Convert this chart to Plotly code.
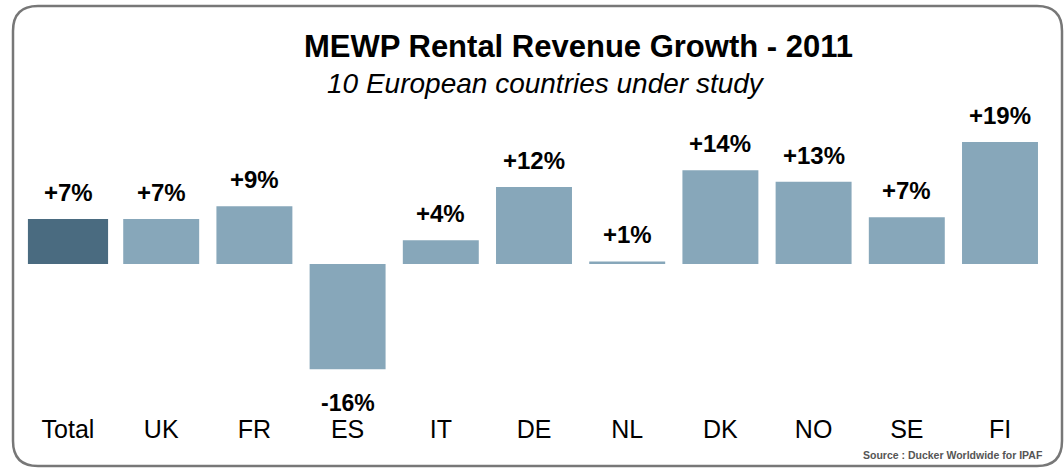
import plotly.graph_objects as go

# ---- data ----
categories = ["Total", "UK", "FR", "ES", "IT", "DE", "NL", "DK", "NO", "SE", "FI"]
growth_values = [7.0, 7.0, 9.0, -16.4, 3.7, 12.0, 0.4, 14.6, 12.8, 7.3, 19.0]
value_labels = ["+7%", "+7%", "+9%", "-16%", "+4%", "+12%", "+1%", "+14%", "+13%", "+7%", "+19%"]

title_text = "MEWP Rental Revenue Growth - 2011"
subtitle_text = "10 European countries under study"
source_text = "Source : Ducker Worldwide for IPAF"

W, H = 1064, 469
LIGHT = "#87A7BA"
DARK = "#4A6B80"
FONT = "Liberation Sans, Arial"

colors = [DARK] + [LIGHT] * (len(categories) - 1)
widths = [0.86] + [0.815] * (len(categories) - 1)

fig = go.Figure()
fig.add_trace(go.Bar(
    x=categories,
    y=growth_values,
    marker=dict(color=colors, line=dict(width=0)),
    width=widths,
    hoverinfo="x+y",
))

# value labels
annotations = []
for cat, val, lab in zip(categories, growth_values, value_labels):
    if val >= 0:
        annotations.append(dict(x=cat, y=val, xref="x", yref="y", text=lab,
                                showarrow=False, yanchor="bottom", yshift=11,
                                font=dict(family=FONT, size=24,
                                          color="#000000", weight="bold")))
    else:
        annotations.append(dict(x=cat, y=val, xref="x", yref="y", text=lab,
                                showarrow=False, yanchor="top", yshift=-19,
                                font=dict(family=FONT, size=23,
                                          color="#000000", weight="bold")))

# title / subtitle / source
annotations.append(dict(x=578 / W, y=1 - 47 / H, xref="paper", yref="paper",
                        text="<b>" + title_text + "</b>", showarrow=False,
                        xanchor="center", yanchor="middle",
                        font=dict(family=FONT, size=31, color="#000000")))
annotations.append(dict(x=546 / W, y=1 - 83 / H, xref="paper", yref="paper",
                        text="<i>" + subtitle_text + "</i>", showarrow=False,
                        xanchor="center", yanchor="middle",
                        font=dict(family=FONT, size=28, color="#000000")))
annotations.append(dict(x=1045 / W, y=1 - 455 / H, xref="paper", yref="paper",
                        text="<b>" + source_text + "</b>", showarrow=False,
                        xanchor="right", yanchor="middle",
                        font=dict(family=FONT, size=10.5, color="#555555")))

# rounded border (paper coords)
L, R, T, B, r = 13, 1062, 6, 466, 25


def px(x):
    return x / W


def py(y):
    return 1 - y / H


path = (f"M {px(L + r)},{py(T)} L {px(R - r)},{py(T)} "
        f"Q {px(R)},{py(T)} {px(R)},{py(T + r)} "
        f"L {px(R)},{py(B - r)} Q {px(R)},{py(B)} {px(R - r)},{py(B)} "
        f"L {px(L + r)},{py(B)} Q {px(L)},{py(B)} {px(L)},{py(B - r)} "
        f"L {px(L)},{py(T + r)} Q {px(L)},{py(T)} {px(L + r)},{py(T)} Z")

# axis geometry
plot_bottom_px = 412
ydom0 = (H - plot_bottom_px) / H
px_per_unit = 6.42
span = plot_bottom_px / px_per_unit
baseline_px = 264
frac = (plot_bottom_px - baseline_px) / plot_bottom_px
ymin = -frac * span
ymax = ymin + span

fig.update_layout(
    width=W, height=H,
    margin=dict(l=0, r=0, t=0, b=0),
    paper_bgcolor="white", plot_bgcolor="white",
    showlegend=False,
    bargap=0.185,
    xaxis=dict(domain=[21.4 / W, 1046.6 / W], showgrid=False, zeroline=False,
               showline=False, ticks="", tickfont=dict(family=FONT, size=25, color="#000000"),
               fixedrange=True),
    yaxis=dict(domain=[ydom0, 1], range=[ymin, ymax], showgrid=False, zeroline=False,
               showline=False, showticklabels=False, ticks="", fixedrange=True),
    annotations=annotations,
    shapes=[dict(type="path", path=path, xref="paper", yref="paper",
                 line=dict(color="#777777", width=2.5), fillcolor="rgba(0,0,0,0)",
                 layer="above")],
)

fig.write_html("out.html",
               config={"displayModeBar": False},
               post_script="document.body.style.margin='0';document.body.style.overflow='hidden';")
